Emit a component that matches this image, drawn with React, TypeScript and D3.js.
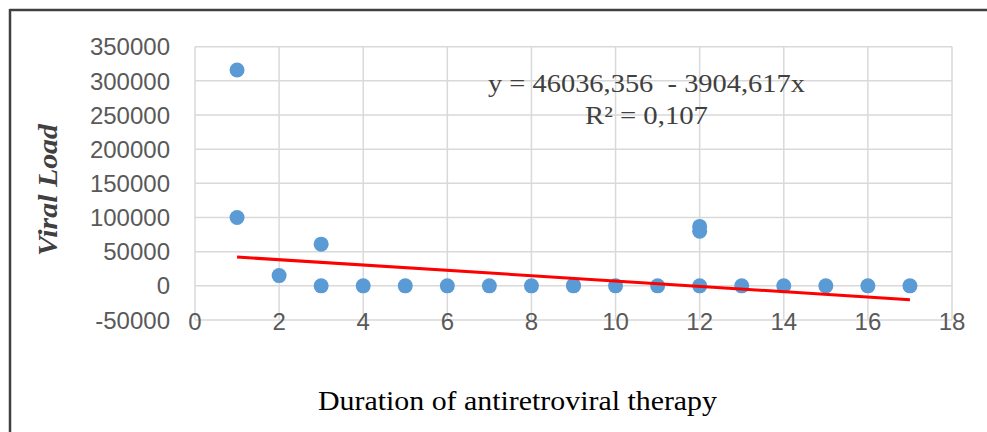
import React from 'react';
import * as d3 from 'd3';

const durations = [1, 1, 2, 3, 3, 4, 5, 6, 7, 8, 9, 9, 10, 11, 12, 12, 12, 13, 14, 15, 16, 17];
const viralLoads = [316000, 100000, 15000, 61000, 0, 0, 0, 0, 0, 0, 0, 800, 0, 0, 87000, 80000, 0, 0, 0, 0, 0, 0];

const xTicks = [0, 2, 4, 6, 8, 10, 12, 14, 16, 18];
const yTicks = [-50000, 0, 50000, 100000, 150000, 200000, 250000, 300000, 350000];

// trend line coefficients (intercept, slope) as printed on the chart
const trendCoef = [46036.356, -3904.617];
const equationLines = ['y = 46036,356  - 3904,617x', 'R² = 0,107'];

const width = 987;
const height = 432;

const App: React.FC = () => {
  const x = d3.scaleLinear().domain([0, 18]).range([195, 952]);
  const y = d3.scaleLinear().domain([-50000, 350000]).range([320, 46.7]);

  const xExt = d3.extent(durations) as [number, number];
  const trend = d3.line<number>()
    .x(d => x(d))
    .y(d => y(trendCoef[0] + trendCoef[1] * d));

  const tickFont = '"Liberation Sans", Arial, sans-serif';
  const serif = '"Liberation Serif", "Times New Roman", serif';

  return (
    <svg
      width={width}
      height={height}
      style={{ position: 'fixed', left: 0, top: 0, background: '#fff' }}
    >
      {/* frame (top and left edges visible) */}
      <line x1={9.5} x2={width} y1={10} y2={10} stroke="#404040" strokeWidth={2.5} />
      <line x1={10} x2={10} y1={9} y2={height} stroke="#404040" strokeWidth={2.5} />

      {/* gridlines */}
      {yTicks.map(t => (
        <line key={'gy' + t} x1={x(0)} x2={x(18)} y1={y(t)} y2={y(t)} stroke="#d9d9d9" strokeWidth={1.5} />
      ))}
      {xTicks.map(t => (
        <line key={'gx' + t} x1={x(t)} x2={x(t)} y1={y(350000)} y2={y(-50000)} stroke="#d9d9d9" strokeWidth={1.5} />
      ))}

      {/* y tick labels */}
      {yTicks.map(t => (
        <text key={'ty' + t} x={170} y={y(t)} dy="0.36em" textAnchor="end"
          fontFamily={tickFont} fontSize={24} fill="#595959">{t}</text>
      ))}
      {/* x tick labels */}
      {xTicks.map(t => (
        <text key={'tx' + t} x={x(t)} y={321} dy="0.36em" textAnchor="middle"
          fontFamily={tickFont} fontSize={24} fill="#595959">{t}</text>
      ))}

      {/* points */}
      {durations.map((d, i) => (
        <circle key={'p' + i} cx={x(d)} cy={y(viralLoads[i])} r={7.5} fill="#5b9bd5" />
      ))}

      {/* linear trend */}
      <path d={trend([xExt[0], xExt[1]]) || ''} fill="none" stroke="#ff0000" strokeWidth={3} />

      {/* equation */}
      <text x={646.5} y={91.5} textAnchor="middle" fontFamily={serif} fontSize={25} fill="#404040"
        textLength={317} lengthAdjust="spacingAndGlyphs" style={{ whiteSpace: 'pre' }}>{equationLines[0]}</text>
      <text x={646.5} y={124} textAnchor="middle" fontFamily={serif} fontSize={25} fill="#404040"
        textLength={123} lengthAdjust="spacingAndGlyphs">{equationLines[1]}</text>

      {/* axis titles */}
      <text x={517.5} y={410} textAnchor="middle" fontFamily={serif} fontSize={27} fill="#000"
        textLength={399} lengthAdjust="spacingAndGlyphs">Duration of antiretroviral therapy</text>
      <text transform="translate(57,190) rotate(-90)" textAnchor="middle" fontFamily={serif}
        fontSize={27} fontWeight="bold" fontStyle="italic" fill="#404040"
        textLength={132} lengthAdjust="spacingAndGlyphs">Viral Load</text>
    </svg>
  );
};

export default App;
